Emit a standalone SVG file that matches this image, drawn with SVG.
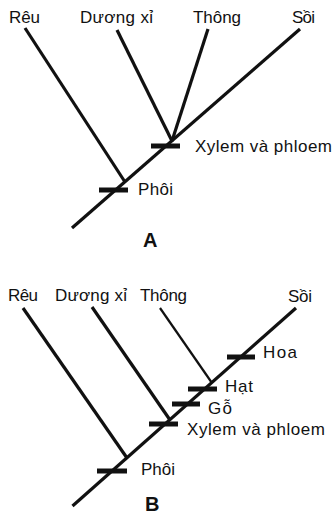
<svg xmlns="http://www.w3.org/2000/svg" width="336" height="514" viewBox="0 0 336 514">
<style>
.ln{stroke:#111;stroke-width:3.2;stroke-linecap:butt;fill:none}
.thin{stroke:#111;stroke-width:2.2;fill:none}
.tk{stroke:#111;stroke-width:5;fill:none}
text{font-family:"Liberation Sans",Arial,sans-serif;font-size:17px;fill:#111}
.big{font-size:20px;font-weight:bold}
</style>
<rect width="336" height="514" fill="#fff"/>
<g id="connectors">
  <line class="ln" x1="72" y1="228" x2="300" y2="29"/>
  <line class="ln" x1="25" y1="28" x2="125" y2="182"/>
  <line class="ln" x1="117" y1="30" x2="172" y2="141"/>
  <line class="ln" x1="208" y1="29" x2="172" y2="141"/>
  <line class="ln" x1="72.5" y1="506" x2="296" y2="308"/>
  <line class="ln" x1="23" y1="308" x2="127" y2="458"/>
  <line class="ln" x1="92" y1="307" x2="170" y2="420"/>
  <line class="thin" x1="160" y1="308" x2="212" y2="383"/>
</g>
<g id="A-ticks">
  <line class="tk" x1="99" y1="190" x2="128" y2="190"/>
  <line class="tk" x1="151" y1="146" x2="180" y2="146"/>
</g>
<g id="B-ticks">
  <line class="tk" x1="97" y1="471" x2="127" y2="471"/>
  <line class="tk" x1="149" y1="424" x2="178" y2="424"/>
  <line class="tk" x1="172" y1="404" x2="200" y2="404"/>
  <line class="tk" x1="188" y1="389" x2="217" y2="389"/>
  <line class="tk" x1="227" y1="357" x2="255" y2="357"/>
</g>
<g id="A-labels">
  <text id="A-reu" x="9" y="23" textLength="31">Rêu</text>
  <text id="A-duongxi" x="80" y="23" textLength="73">Dương xỉ</text>
  <text id="A-thong" x="193" y="23" textLength="48">Thông</text>
  <text id="A-soi" x="292" y="23" textLength="23">Sồi</text>
  <text id="A-xylem" x="195" y="152" textLength="137">Xylem và phloem</text>
  <text id="A-phoi" x="138" y="195" textLength="35">Phôi</text>
  <text id="A-title" class="big" x="143" y="247">A</text>
</g>
<g id="B-labels">
  <text id="B-reu" x="8" y="301" textLength="30">Rêu</text>
  <text id="B-duongxi" x="55" y="301" textLength="72">Dương xỉ</text>
  <text id="B-thong" x="140" y="301" textLength="47">Thông</text>
  <text id="B-soi" x="288" y="302" textLength="24">Sồi</text>
  <text id="B-hoa" x="263" y="358" textLength="34">Hoa</text>
  <text id="B-hat" x="225" y="392" textLength="28">Hạt</text>
  <text id="B-go" x="208" y="414" textLength="24">Gỗ</text>
  <text id="B-xylem" x="187" y="435" textLength="138">Xylem và phloem</text>
  <text id="B-phoi" x="141" y="475" textLength="34">Phôi</text>
  <text id="B-title" class="big" x="145" y="511">B</text>
</g>
</svg>
